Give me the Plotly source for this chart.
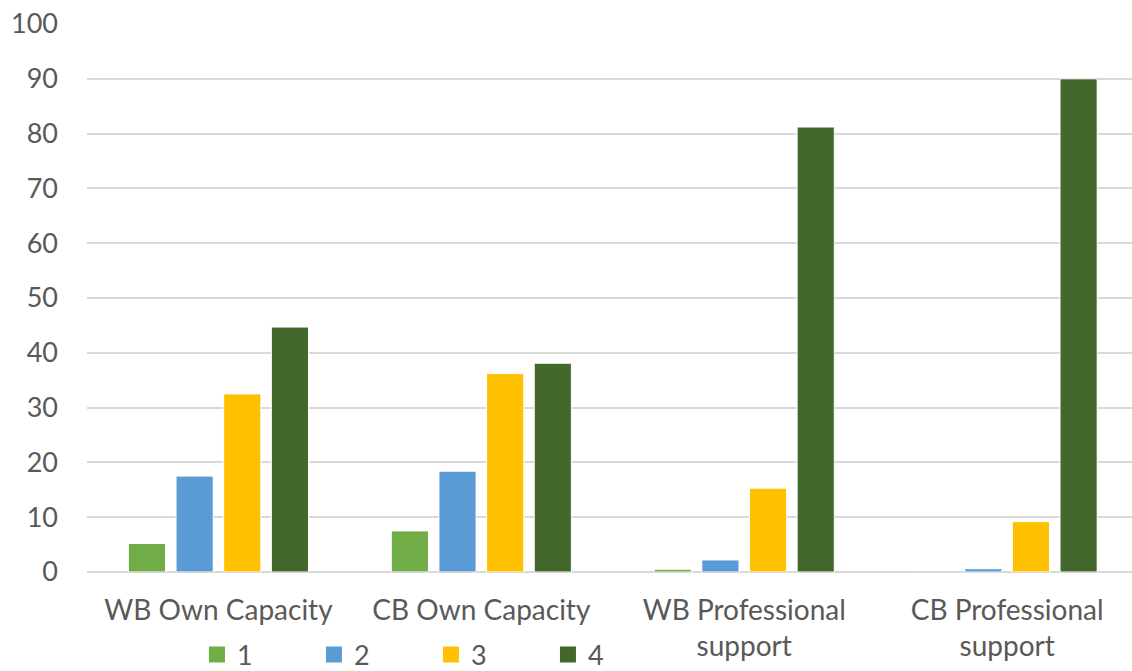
import plotly.graph_objects as go

categories = ["WB Own Capacity", "CB Own Capacity", "WB Professional<br>support", "CB Professional<br>support"]
series_names = ["1", "2", "3", "4"]
values_1 = [5.2, 7.5, 0.5, 0.2]
values_2 = [17.5, 18.4, 2.2, 0.6]
values_3 = [32.5, 36.2, 15.3, 9.2]
values_4 = [44.7, 38.1, 81.2, 90.0]
colors = ["#70AD47", "#5B9BD5", "#FFC000", "#43682B"]
y_ticks = [0, 10, 20, 30, 40, 50, 60, 70, 80, 90, 100]

FONT = "Lato"
TEXT_COLOR = "#595959"

fig = go.Figure()
for name, vals, col in zip(series_names, [values_1, values_2, values_3, values_4], colors):
    fig.add_trace(go.Bar(
        x=categories, y=vals, name=name, marker=dict(color=col, line=dict(color="white", width=1)),
        showlegend=False, legendgroup=name,
    ))
# legend entries with larger square swatches
for name, col in zip(series_names, colors):
    fig.add_trace(go.Scatter(
        x=[None], y=[None], mode="markers", name=name, legendgroup=name,
        marker=dict(symbol="square", size=16, color=col), showlegend=True,
    ))

fig.update_layout(
    width=1132, height=671,
    margin=dict(l=86.5, r=0, t=23.5, b=99, autoexpand=False),
    paper_bgcolor="white", plot_bgcolor="white",
    barmode="group", bargap=0.275, bargroupgap=0.22,
    font=dict(family=FONT, size=27, color=TEXT_COLOR),
    legend=dict(
        orientation="h", xref="container", yref="container",
        x=0.174, xanchor="left", y=0.024, yanchor="middle",
        entrywidth=72, entrywidthmode="pixels", font=dict(size=27, color=TEXT_COLOR),
        itemsizing="trace", bgcolor="rgba(0,0,0,0)", tracegroupgap=0,
    ),
    xaxis=dict(
        type="category", range=[-0.5, 3.475], showgrid=False, showline=False, zeroline=False,
        ticks="", ticklabelstandoff=19, automargin=False,
        tickfont=dict(size=28, color=TEXT_COLOR),
    ),
    yaxis=dict(
        range=[0, 100], tickvals=y_ticks, showgrid=True, gridcolor="#D9D9D9", gridwidth=1.5,
        zeroline=True, zerolinecolor="#D9D9D9", zerolinewidth=1.5, showline=False, ticks="",
        ticklabelstandoff=28, automargin=False, tickfont=dict(size=27, color=TEXT_COLOR),
    ),
)

fig.write_html("out.html")
